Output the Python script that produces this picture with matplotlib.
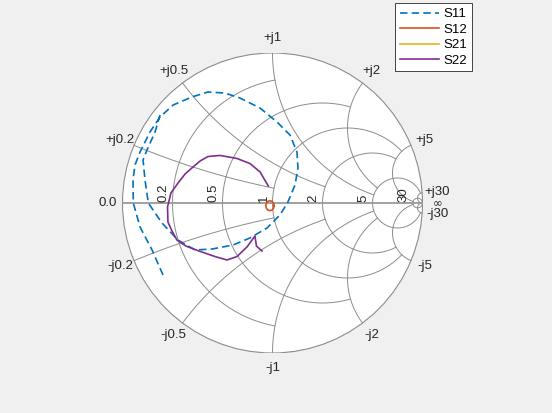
import numpy as np
import matplotlib
matplotlib.use("Agg")
import matplotlib.pyplot as plt
from matplotlib.patches import Circle

plt.rcParams['font.family'] = ['Liberation Sans', 'DejaVu Sans']

# Smith chart grid: circle values and their drawing limits
grid_values = [0.2, 0.5, 1, 2, 5, 30]
grid_limits = [1, 2, 5, 5, 30, np.inf]

series_names = ['S11', 'S12', 'S21', 'S22']

s11_re = [-0.730, -0.803, -0.883, -0.928, -0.930, -0.917, -0.883, -0.817, -0.750, -0.663,
          -0.537, -0.430, -0.317, -0.217, -0.083, 0.030, 0.117, 0.163, 0.170, 0.150,
          0.103, 0.050, -0.037, -0.150, -0.263, -0.403, -0.517, -0.630, -0.737, -0.828,
          -0.850, -0.863, -0.837, -0.783, -0.750]
s11_im = [-0.480, -0.313, -0.160, 0.000, 0.153, 0.253, 0.340, 0.473, 0.573, 0.653,
          0.707, 0.740, 0.733, 0.700, 0.633, 0.540, 0.453, 0.340, 0.233, 0.120,
          0.007, -0.080, -0.167, -0.233, -0.280, -0.307, -0.313, -0.247, -0.133, 0.000,
          0.153, 0.287, 0.353, 0.473, 0.587]

s12_re = [0.011, 0.007, -0.003, -0.017, -0.031, -0.041, -0.045, -0.041, -0.031, -0.017,
          -0.003, 0.007, 0.011]
s12_im = [-0.018, -0.002, 0.011, 0.015, 0.011, -0.002, -0.018, -0.035, -0.047, -0.051,
          -0.047, -0.035, -0.018]

# S21 (gain > 1) lies outside the chart and is clipped
s21_re = [2.8, 2.6, 2.3, 1.9, 1.5]
s21_im = [1.5, 1.9, 2.2, 2.5, 2.7]

s22_re = [-0.028, -0.083, -0.150, -0.237, -0.350, -0.430, -0.483, -0.530, -0.583, -0.630,
          -0.677, -0.700, -0.697, -0.670, -0.637, -0.577, -0.490, -0.383, -0.303, -0.237,
          -0.170, -0.117, -0.107, -0.070]
s22_im = [0.113, 0.207, 0.263, 0.297, 0.317, 0.310, 0.280, 0.240, 0.193, 0.133,
          0.067, -0.027, -0.127, -0.187, -0.247, -0.287, -0.320, -0.357, -0.380, -0.357,
          -0.293, -0.220, -0.287, -0.320]

colors = ['#0072BD', '#D95319', '#EDB120', '#7E2F8E']
styles = ['--', '-', '-', '-']

grid_c = (0.55, 0.55, 0.55)
fs = 9.5

fig = plt.figure(figsize=(5.52, 4.13), dpi=100, facecolor=(0.94, 0.94, 0.94))
ax = fig.add_axes([122.5 / 552, 60 / 413, 300 / 552, 300 / 413])
ax.set_xlim(-1, 1)
ax.set_ylim(-1, 1)
ax.axis('off')

disk = Circle((0, 0), 1, facecolor='white', edgecolor=grid_c, lw=0.8, zorder=0)
ax.add_patch(disk)


def gamma(z):
    return (z - 1) / (z + 1)


for v, lim in zip(grid_values, grid_limits):
    a = np.arctan(lim)
    # resistance circle r=v for |x| <= lim
    xs = np.tan(np.linspace(-a, a, 1500) * 0.999999)
    g = gamma(v + 1j * xs)
    ax.plot(g.real, g.imag, color=grid_c, lw=0.7, zorder=1)
    # reactance arcs x=+-v for 0 <= r <= lim
    rs = np.tan(np.linspace(0, a, 1500) * 0.999999)
    for s in (1, -1):
        g = gamma(rs + 1j * s * v)
        ax.plot(g.real, g.imag, color=grid_c, lw=0.7, zorder=1)

ax.plot([-1, 1], [0, 0], color=(0.6, 0.6, 0.6), lw=1.3, zorder=1)

# real-axis labels
for v in grid_values:
    gx = (v - 1) / (v + 1)
    ax.text(gx - 0.02, 0.008, f'{v:g}', rotation=90, ha='right', va='bottom',
            fontsize=fs, color='#262626', zorder=3)

# outer labels
rl = 1.1
ax.text(-rl, 0, '0.0', ha='center', va='center', fontsize=fs, color='#262626')
ax.text(rl, -0.004, '\u221e', ha='center', va='center', rotation=0,
        fontsize=8.5, color='#262626', family=['DejaVu Sans'])
for v in grid_values:
    for s in (1, -1):
        g = gamma(1j * s * v)
        ang = np.angle(g)
        lab = ('+j' if s > 0 else '-j') + f'{v:g}'
        ax.text(rl * np.cos(ang), rl * np.sin(ang), lab, ha='center', va='center',
                fontsize=fs, color='#262626')

data = [(s11_re, s11_im), (s12_re, s12_im), (s21_re, s21_im), (s22_re, s22_im)]
handles = []
for (re, im), name, c, ls in zip(data, series_names, colors, styles):
    kw = dict(dashes=(4.5, 2.5)) if ls == '--' else {}
    ln, = ax.plot(re, im, ls, color=c, lw=1.2, label=name, zorder=4, **kw)
    ln.set_clip_path(disk)
    handles.append(ln)

leg = fig.legend(handles=handles, loc='upper right',
                 bbox_to_anchor=(471.7 / 552, 1 - 3.3 / 413), fontsize=fs,
                 frameon=True, fancybox=False, handlelength=3.0, handletextpad=0.3,
                 borderpad=0.35, labelspacing=0.25, borderaxespad=0)
leg.get_frame().set_edgecolor((0.15, 0.15, 0.15))
leg.get_frame().set_linewidth(0.6)
leg.get_frame().set_facecolor('white')
leg.get_frame().set_alpha(1)

fig.savefig('out.png', dpi=100, facecolor=fig.get_facecolor())
